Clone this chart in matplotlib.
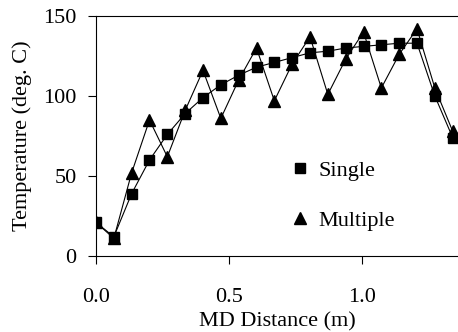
import matplotlib
matplotlib.use("Agg")
import matplotlib.pyplot as plt
from matplotlib.lines import Line2D

plt.rcParams['font.family'] = ['Liberation Serif', 'DejaVu Serif']

distance = [0.0, 0.067, 0.134, 0.201, 0.268, 0.335, 0.402, 0.469, 0.536, 0.603,
            0.670, 0.737, 0.804, 0.871, 0.938, 1.005, 1.072, 1.139, 1.206, 1.273, 1.340]
single = [21, 12, 39, 60, 76, 89, 99, 107, 113, 118, 121, 124, 127, 128, 130, 131,
          132, 133, 133, 100, 74]
multiple = [21, 11, 52, 85, 62, 91, 116, 86, 110, 130, 97, 120, 137, 101, 123, 140,
            105, 126, 142, 105, 78]

xticks = [0.0, 0.5, 1.0]
xtick_labels = ["0.0", "0.5", "1.0"]
yticks = [0, 50, 100, 150]

fig = plt.figure(figsize=(4.58, 3.32), dpi=100)
ax = fig.add_axes([0.2096, 0.2289, 0.7904, 0.7229])

ax.plot(distance, multiple, color='black', lw=0.8, marker='^', ms=8, zorder=2)
ax.plot(distance, single, color='black', lw=0.8, marker='s', ms=7, zorder=3)

ax.set_xlim(0, 1.36)
ax.set_ylim(0, 150)
ax.set_xticks(xticks)
ax.set_xticklabels(xtick_labels)
ax.set_yticks(yticks)

for s in ['right']:
    ax.spines[s].set_visible(False)
for s in ['left', 'bottom', 'top']:
    ax.spines[s].set_linewidth(0.8)

ax.tick_params(axis='x', direction='out', length=6, width=0.8, pad=17, labelsize=16)
ax.tick_params(axis='y', direction='out', length=6, width=0.8, pad=8, labelsize=16)

ax.set_xlabel("MD Distance (m)", fontsize=16, labelpad=4)
ax.set_ylabel("Temperature (deg. C)", fontsize=16, labelpad=8)

handles = [Line2D([], [], color='black', marker='s', ms=7, ls='none'),
           Line2D([], [], color='black', marker='^', ms=8, ls='none')]
ax.legend(handles, ["Single", "Multiple"], loc='center left',
          bbox_to_anchor=(0.508, 0.252), frameon=False, fontsize=16,
          handlelength=0.8, handletextpad=0.45, labelspacing=1.3, borderpad=0)

fig.savefig("out.png", dpi=100)
